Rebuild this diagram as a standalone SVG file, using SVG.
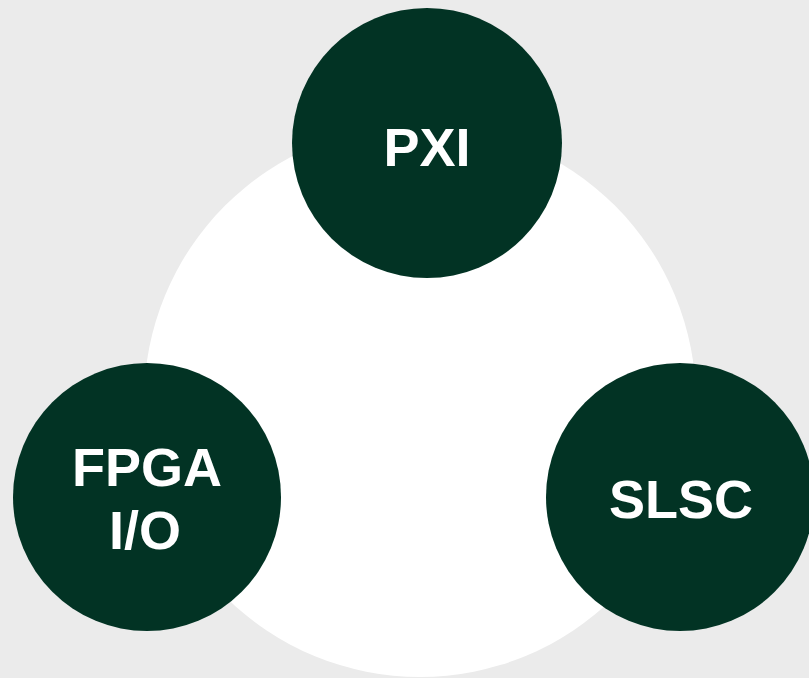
<svg xmlns="http://www.w3.org/2000/svg" width="809" height="678" viewBox="0 0 809 678">
<style>
.node{fill:#023324}
.lbl{fill:#ffffff;font-family:"Liberation Sans",Arial,sans-serif;font-weight:bold;font-size:54px;text-anchor:middle}
</style>
<rect width="809" height="678" fill="#ebebeb"/>
<circle id="hub" cx="420" cy="401" r="276" fill="#ffffff"/>
<g id="connectors"></g>
<g id="pxi">
<circle class="node" cx="427" cy="143" r="135"/>
<text class="lbl" x="427" y="166">PXI</text>
</g>
<g id="fpga">
<circle class="node" cx="147" cy="497" r="134"/>
<text class="lbl" x="147" y="486">FPGA</text>
<text class="lbl" x="145" y="549">I/O</text>
</g>
<g id="slsc">
<circle class="node" cx="680" cy="497" r="134"/>
<text class="lbl" x="681" y="518">SLSC</text>
</g>
</svg>
